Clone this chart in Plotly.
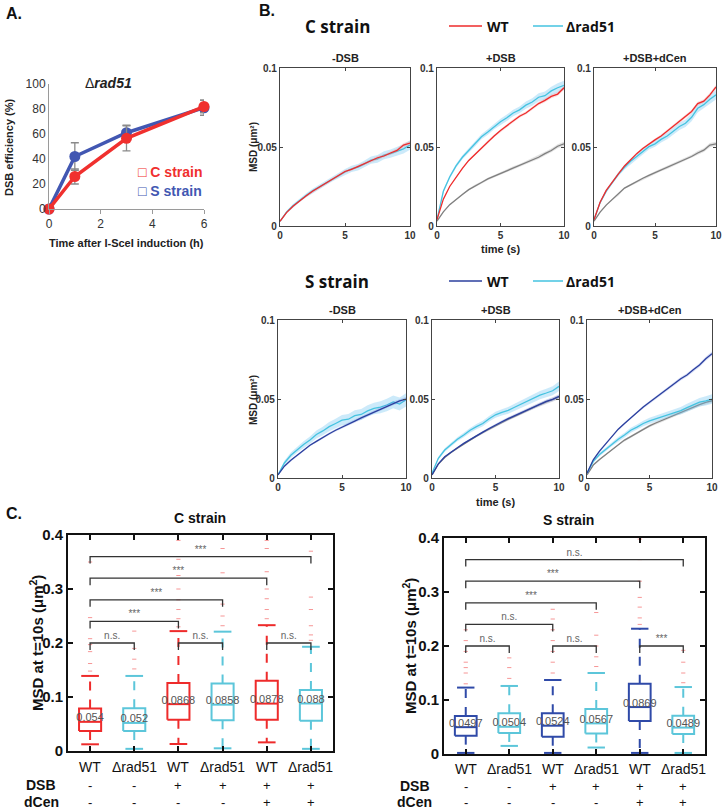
import plotly.graph_objects as go

W, H = 723, 810
FONT = "Liberation Sans, Arial, sans-serif"

# ---------------- Panel A data ----------------
a_time = [0, 1, 3, 6]
a_c_eff = [0, 26, 56.5, 82]
a_c_err = [0, 6, 10, 5]
a_s_eff = [0, 42, 61, 81]
a_s_err = [0, 11, 6, 6]

# ---------------- Panel B data ----------------
t = [0, 0.5, 1, 1.5, 2, 2.5, 3, 3.5, 4, 4.5, 5, 5.5, 6, 6.5, 7, 7.5, 8, 8.5, 9, 9.5, 10]

c_nodsb_wt = [0.003, 0.0085, 0.0125, 0.016, 0.019, 0.022, 0.0245, 0.027, 0.0293, 0.0318, 0.0345, 0.0358, 0.0378, 0.0395, 0.0413, 0.0432, 0.0443, 0.0462, 0.0478, 0.0512, 0.0525]
c_nodsb_rad51 = [0.003, 0.0088, 0.0128, 0.0162, 0.0193, 0.0222, 0.0246, 0.0272, 0.0298, 0.032, 0.0342, 0.0361, 0.0372, 0.0393, 0.0417, 0.0425, 0.0448, 0.0458, 0.0472, 0.0488, 0.0512]
c_dsb_wt = [0.004, 0.017, 0.025, 0.031, 0.0365, 0.0415, 0.0455, 0.0495, 0.0535, 0.057, 0.0605, 0.0635, 0.0665, 0.0695, 0.0715, 0.0745, 0.0775, 0.0795, 0.082, 0.0835, 0.0875]
c_dsb_rad51 = [0.004, 0.022, 0.031, 0.038, 0.0435, 0.048, 0.052, 0.0565, 0.0595, 0.063, 0.066, 0.0685, 0.0715, 0.0735, 0.0765, 0.0785, 0.0815, 0.0825, 0.0855, 0.0875, 0.089]
c_dsb_ref = [0.003, 0.009, 0.0135, 0.017, 0.020, 0.023, 0.0255, 0.0275, 0.0298, 0.0315, 0.033, 0.035, 0.0368, 0.0382, 0.0402, 0.042, 0.0435, 0.0458, 0.0478, 0.0505, 0.052]
c_dcen_wt = [0.004, 0.015, 0.0225, 0.028, 0.033, 0.038, 0.042, 0.0458, 0.049, 0.052, 0.0545, 0.057, 0.060, 0.063, 0.066, 0.069, 0.0725, 0.0775, 0.079, 0.083, 0.088]
c_dcen_rad51 = [0.004, 0.0148, 0.022, 0.0278, 0.0328, 0.0372, 0.041, 0.044, 0.047, 0.0502, 0.052, 0.0548, 0.057, 0.0598, 0.063, 0.065, 0.0688, 0.0745, 0.0768, 0.0802, 0.083]
c_dcen_ref = [0.003, 0.0088, 0.0132, 0.0168, 0.0198, 0.024, 0.026, 0.0282, 0.0302, 0.032, 0.0337, 0.0355, 0.037, 0.0388, 0.0405, 0.042, 0.044, 0.0462, 0.048, 0.0512, 0.052]

s_nodsb_wt = [0.002, 0.0075, 0.0112, 0.0145, 0.0175, 0.0207, 0.0232, 0.0258, 0.028, 0.0302, 0.0323, 0.0342, 0.036, 0.038, 0.0398, 0.0419, 0.0438, 0.0455, 0.0472, 0.0488, 0.050]
s_nodsb_rad51 = [0.002, 0.0095, 0.0144, 0.018, 0.0212, 0.024, 0.0275, 0.0298, 0.0325, 0.0345, 0.0366, 0.0372, 0.0395, 0.0402, 0.0425, 0.044, 0.0448, 0.0462, 0.0482, 0.0468, 0.0495]
s_dsb_wt = [0.002, 0.009, 0.0134, 0.0166, 0.0192, 0.0219, 0.0244, 0.0268, 0.029, 0.0313, 0.0336, 0.0356, 0.0376, 0.0395, 0.0413, 0.0432, 0.045, 0.0468, 0.0485, 0.0498, 0.0517]
s_dsb_rad51 = [0.003, 0.0125, 0.0177, 0.0212, 0.0245, 0.0272, 0.0302, 0.0325, 0.0345, 0.0375, 0.040, 0.0415, 0.0428, 0.0448, 0.0468, 0.0485, 0.0505, 0.0525, 0.0538, 0.0552, 0.058]
s_dsb_ref = [0.002, 0.0088, 0.013, 0.0162, 0.0188, 0.0215, 0.0242, 0.0265, 0.0288, 0.031, 0.0332, 0.0352, 0.0372, 0.039, 0.041, 0.0428, 0.0448, 0.0465, 0.0482, 0.0495, 0.0512]
s_dcen_wt = [0.003, 0.0115, 0.017, 0.0215, 0.0265, 0.0309, 0.0345, 0.0382, 0.0418, 0.045, 0.0479, 0.051, 0.054, 0.0568, 0.0598, 0.0628, 0.0652, 0.0685, 0.0715, 0.0755, 0.0787]
s_dcen_rad51 = [0.003, 0.0105, 0.0149, 0.0182, 0.0215, 0.0245, 0.0272, 0.0302, 0.0322, 0.0345, 0.0362, 0.0375, 0.0392, 0.0405, 0.0418, 0.0426, 0.0445, 0.0462, 0.048, 0.0488, 0.050]
s_dcen_ref = [0.002, 0.0082, 0.0117, 0.0148, 0.0182, 0.0213, 0.024, 0.0262, 0.0285, 0.0308, 0.033, 0.0348, 0.0365, 0.0382, 0.0398, 0.0415, 0.0432, 0.0448, 0.0465, 0.0478, 0.0489]

sem_narrow = [0.0002, 0.0004, 0.0005, 0.0005, 0.0006, 0.0006, 0.0007, 0.0007, 0.0008, 0.0008, 0.0009, 0.0009, 0.001, 0.001, 0.001, 0.0011, 0.0011, 0.0012, 0.0012, 0.0013, 0.0013]
sem_mid = [0.0004, 0.0009, 0.0011, 0.0012, 0.0013, 0.0014, 0.0015, 0.0016, 0.0017, 0.0018, 0.0019, 0.002, 0.0021, 0.0022, 0.0023, 0.0024, 0.0025, 0.0026, 0.0027, 0.0029, 0.003]
sem_wide = [0.0006, 0.0014, 0.0017, 0.0019, 0.0021, 0.0023, 0.0025, 0.0027, 0.0029, 0.003, 0.0032, 0.0033, 0.0034, 0.0035, 0.0036, 0.0037, 0.0038, 0.0039, 0.004, 0.0041, 0.0042]

b_titles = ["-DSB", "+DSB", "+DSB+dCen"]

# ---------------- Panel C data ----------------
c_cats = ["WT", "\u0394rad51", "WT", "\u0394rad51", "WT", "\u0394rad51"]
dsb_flags = ["-", "-", "+", "+", "+", "+"]
dcen_flags = ["-", "-", "-", "-", "+", "+"]

cC_q1 = [0.037, 0.037, 0.058, 0.057, 0.058, 0.056]
cC_med = [0.054, 0.052, 0.0868, 0.0858, 0.0878, 0.088]
cC_q3 = [0.0785, 0.079, 0.126, 0.125, 0.130, 0.113]
cC_lo = [0.0124, 0.004, 0.013, 0.005, 0.016, 0.004]
cC_hi = [0.139, 0.139, 0.222, 0.221, 0.233, 0.193]
cC_out = [[0.148, 0.162, 0.184, 0.197, 0.208, 0.247, 0.35],
          [0.152, 0.17, 0.19, 0.222],
          [0.23, 0.245, 0.262, 0.28, 0.30, 0.325, 0.355, 0.39],
          [0.232, 0.25, 0.272, 0.33, 0.375],
          [0.245, 0.262, 0.282, 0.30, 0.332, 0.375, 0.39],
          [0.205, 0.215, 0.232, 0.262, 0.285, 0.37]]
cC_labels = ["0.054", "0.052", "0.0868", "0.0858", "0.0878", "0.088"]

sC_q1 = [0.034, 0.039, 0.032, 0.038, 0.061, 0.037]
sC_med = [0.0497, 0.0504, 0.0524, 0.0567, 0.0869, 0.0489]
sC_q3 = [0.0705, 0.0755, 0.0755, 0.0835, 0.130, 0.071]
sC_lo = [0.002, 0.015, 0.002, 0.012, 0.002, 0.002]
sC_hi = [0.123, 0.126, 0.137, 0.150, 0.232, 0.124]
sC_out = [[0.13, 0.15, 0.16, 0.17, 0.19, 0.21, 0.23],
          [0.14, 0.16, 0.178],
          [0.15, 0.17, 0.19, 0.21, 0.23, 0.25, 0.268],
          [0.162, 0.18, 0.20, 0.22, 0.262],
          [0.24, 0.252, 0.272, 0.29, 0.32, 0.36, 0.398],
          [0.132, 0.15, 0.17, 0.192]]
sC_labels = ["0.0497", "0.0504", "0.0524", "0.0567", "0.0869", "0.0489"]

cC_sig = [(1, 2, 0.20, "n.s."), (3, 4, 0.20, "n.s."), (5, 6, 0.20, "n.s."),
          (1, 3, 0.24, "***"), (1, 4, 0.28, "***"), (1, 5, 0.32, "***"), (1, 6, 0.36, "***")]
sC_sig = [(1, 2, 0.20, "n.s."), (3, 4, 0.20, "n.s."), (5, 6, 0.20, "***"),
          (1, 3, 0.24, "n.s."), (1, 4, 0.28, "***"), (1, 5, 0.32, "***"), (1, 6, 0.36, "n.s.")]

# ---------------- colours ----------------
RED = "#ee2b2b"
CYAN = "#45c3e0"
DBLUE = "#2b3f9e"
GRAY = "#7f7f7f"
A_BLUE = "#4257b2"
A_RED = "#f0302e"
BOX_CYAN = "#5cc6da"
BOX_BLUE = "#2f4aa8"


def px(x):
    return x / W


def py(y):
    return 1 - y / H


def label(text, x, y, size, color="#111", family=FONT, xanchor="center", angle=0):
    return dict(text=text, x=px(x), y=py(y), xref="paper", yref="paper", xanchor=xanchor, yanchor="middle",
                textangle=angle, showarrow=False, font=dict(size=size, family=family, color=color))


fig = go.Figure()
annotations = []
shapes = []

# ======================= Panel A =======================
fig.add_trace(go.Scatter(x=a_time, y=a_s_eff, xaxis="x", yaxis="y", mode="lines+markers",
                         line=dict(color=A_BLUE, width=3.5), marker=dict(size=11, color=A_BLUE),
                         error_y=dict(type="data", array=a_s_err, color="#8a8a8a", thickness=1.3, width=4),
                         cliponaxis=False))
fig.add_trace(go.Scatter(x=a_time, y=a_c_eff, xaxis="x", yaxis="y", mode="lines+markers",
                         line=dict(color=A_RED, width=3.5), marker=dict(size=11, color=A_RED),
                         error_y=dict(type="data", array=a_c_err, color="#8a8a8a", thickness=1.3, width=4),
                         cliponaxis=False))

layout_axes = {}
layout_axes["xaxis"] = dict(domain=[px(49), px(204)], anchor="y", range=[0, 6], tickvals=[0, 2, 4, 6],
                            showline=True, linecolor="#9a9a9a", linewidth=1, ticks="outside", ticklen=4,
                            tickcolor="#9a9a9a", showgrid=False, zeroline=False, automargin=False,
                            tickfont=dict(size=12, color="#333", family=FONT))
layout_axes["yaxis"] = dict(domain=[py(209), py(84)], anchor="x", range=[0, 100], tickvals=[0, 20, 40, 60, 80, 100],
                            showline=True, linecolor="#9a9a9a", linewidth=1, ticks="", showgrid=False,
                            zeroline=False, automargin=False, tickfont=dict(size=12, color="#333", family=FONT))

annotations += [
    label("<b>A.</b>", 4, 13, 16, xanchor="left"),
    label("\u0394<b><i>rad51</i></b>", 108, 83, 14, color="#222"),
    label("<b>\u25a1 C strain</b>", 136, 172, 14, color=A_RED, xanchor="left"),
    label("<b>\u25a1 S strain</b>", 136, 191, 14, color=A_BLUE, xanchor="left"),
    label("<b>Time after I-SceI induction (h)</b>", 127, 243, 11, color="#222"),
    label("<b>DSB efficiency (%)</b>", 9, 147, 11, color="#222", angle=-90),
]

# ======================= Panel B =======================
b_panels = [
    (2, (280, 410), (68, 226), [(c_nodsb_rad51, CYAN, sem_mid), (c_nodsb_wt, RED, sem_narrow)]),
    (3, (437, 564), (68, 226), [(c_dsb_ref, GRAY, sem_narrow), (c_dsb_rad51, CYAN, sem_mid), (c_dsb_wt, RED, sem_narrow)]),
    (4, (594, 716), (68, 226), [(c_dcen_ref, GRAY, sem_narrow), (c_dcen_rad51, CYAN, sem_mid), (c_dcen_wt, RED, sem_narrow)]),
    (5, (278, 406), (320, 478), [(s_nodsb_rad51, CYAN, sem_wide), (s_nodsb_wt, DBLUE, sem_narrow)]),
    (6, (432, 559), (320, 478), [(s_dsb_ref, GRAY, sem_narrow), (s_dsb_rad51, CYAN, sem_mid), (s_dsb_wt, DBLUE, sem_narrow)]),
    (7, (587, 712), (320, 478), [(s_dcen_ref, GRAY, sem_narrow), (s_dcen_rad51, CYAN, sem_mid), (s_dcen_wt, DBLUE, sem_narrow)]),
]

band_colors = {CYAN: "rgba(110,195,240,0.35)", RED: "rgba(240,120,120,0.25)",
               DBLUE: "rgba(90,120,220,0.25)", GRAY: "rgba(160,160,160,0.3)"}

for k, (idx, xd, yd, curves) in enumerate(b_panels):
    xa, ya = f"x{idx}", f"y{idx}"
    for vals, col, sem in curves:
        upper = [v + s for v, s in zip(vals, sem)]
        lower = [v - s for v, s in zip(vals, sem)]
        fig.add_trace(go.Scatter(x=t + t[::-1], y=upper + lower[::-1], xaxis=xa, yaxis=ya, mode="lines",
                                 fill="toself", fillcolor=band_colors[col], line=dict(width=0),
                                 hoverinfo="skip"))
        fig.add_trace(go.Scatter(x=t, y=vals, xaxis=xa, yaxis=ya, mode="lines",
                                 line=dict(color=col, width=1.3)))
    common = dict(showline=True, linecolor="#444", linewidth=1.3, mirror="allticks", ticks="inside",
                  ticklen=3, tickcolor="#444", showgrid=False, zeroline=False, automargin=False,
                  tickfont=dict(size=10, color="#333", family=FONT, weight="bold"))
    layout_axes[f"xaxis{idx}"] = dict(domain=[px(xd[0]), px(xd[1])], anchor=ya, range=[0, 10],
                                      tickvals=[0, 5, 10], **common)
    layout_axes[f"yaxis{idx}"] = dict(domain=[py(yd[1]), py(yd[0])], anchor=xa, range=[0, 0.1],
                                      tickvals=[0, 0.05, 0.1], ticktext=["0", "0.05", "0.1"], **common)
    annotations.append(label(f"<b>{b_titles[k % 3]}</b>", (xd[0] + xd[1]) / 2, yd[0] - 10, 11, color="#222"))

for row_y, mid_y, lab, wt_col in [(26, 147, "C strain", RED), (281, 400, "S strain", DBLUE)]:
    annotations += [
        label(f"<b>{lab}</b>", 337, row_y, 17, family="Open Sans, sans-serif"),
        label("<b>WT</b>", 498, row_y, 14, family="Open Sans, sans-serif"),
        label("<b>\u0394rad51</b>", 590, row_y, 14, family="Open Sans, sans-serif"),
        label("<b>MSD (\u03bcm\u00b2)</b>", 253, mid_y, 10, color="#222", angle=-90),
    ]
    shapes += [
        dict(type="line", xref="paper", yref="paper", x0=px(449), x1=px(482), y0=py(row_y), y1=py(row_y),
             line=dict(color=wt_col, width=1.5)),
        dict(type="line", xref="paper", yref="paper", x0=px(533), x1=px(563), y0=py(row_y), y1=py(row_y),
             line=dict(color=CYAN, width=1.5)),
    ]

annotations += [
    label("<b>B.</b>", 257, 10, 16, xanchor="left"),
    label("<b>time (s)</b>", 500, 249, 11, color="#222"),
    label("<b>time (s)</b>", 495, 502, 11, color="#222"),
]

# ======================= Panel C =======================
c_panels = [
    (8, (68, 333), (535, 751), "C strain", 200, 518, 36, [RED, BOX_CYAN] * 3,
     cC_q1, cC_med, cC_q3, cC_lo, cC_hi, cC_out, cC_labels, cC_sig, 767, 41, 785, 802),
    (9, (444, 705), (538, 754), "S strain", 568, 520, 409, [BOX_BLUE, BOX_CYAN] * 3,
     sC_q1, sC_med, sC_q3, sC_lo, sC_hi, sC_out, sC_labels, sC_sig, 769, 415, 786, 802),
]

BW = 0.25
CW = 0.2
for (idx, xd, yd, title, tx, ty, ytx, cols, q1, med, q3, lo, hi, outs, labs, sigs,
     cat_y, rowlab_x, dsb_y, dcen_y) in c_panels:
    xa, ya = f"x{idx}", f"y{idx}"
    for i in range(6):
        p = i + 1
        col = cols[i]
        fig.add_trace(go.Scatter(x=[p] * len(outs[i]), y=outs[i], xaxis=xa, yaxis=ya, mode="markers",
                                 marker=dict(symbol="line-ew", size=3, color="rgba(240,80,80,0.6)",
                                             line=dict(width=1, color="rgba(240,80,80,0.6)"))))
        fig.add_trace(go.Scatter(x=[p, p, None, p, p], y=[q3[i], hi[i], None, q1[i], lo[i]], xaxis=xa, yaxis=ya,
                                 mode="lines", line=dict(color=col, width=2, dash="dash")))
        fig.add_trace(go.Scatter(x=[p - CW, p + CW, None, p - CW, p + CW], y=[hi[i], hi[i], None, lo[i], lo[i]],
                                 xaxis=xa, yaxis=ya, mode="lines", line=dict(color=col, width=2)))
        fig.add_trace(go.Scatter(x=[p - BW, p + BW, p + BW, p - BW, p - BW, None, p - BW, p + BW],
                                 y=[q1[i], q1[i], q3[i], q3[i], q1[i], None, med[i], med[i]],
                                 xaxis=xa, yaxis=ya, mode="lines", line=dict(color=col, width=2)))
        fig.add_trace(go.Scatter(x=[p], y=[med[i] + 0.006], xaxis=xa, yaxis=ya, mode="text", text=[labs[i]],
                                 textfont=dict(size=11, color="#555", family=FONT)))
        annotations.append(dict(text=c_cats[i], x=p, xref=xa, y=py(cat_y), yref="paper", showarrow=False,
                                xanchor="center", yanchor="middle", font=dict(size=14, family=FONT, color="#111")))
        annotations.append(dict(text=dsb_flags[i], x=p, xref=xa, y=py(dsb_y), yref="paper", showarrow=False,
                                xanchor="center", yanchor="middle", font=dict(size=13, family=FONT, color="#111")))
        annotations.append(dict(text=dcen_flags[i], x=p, xref=xa, y=py(dcen_y), yref="paper", showarrow=False,
                                xanchor="center", yanchor="middle", font=dict(size=13, family=FONT, color="#111")))
    for a, b, yy, lab in sigs:
        fig.add_trace(go.Scatter(x=[a, a, b, b], y=[yy - 0.013, yy, yy, yy - 0.013], xaxis=xa, yaxis=ya,
                                 mode="lines", line=dict(color="#333", width=1.3)))
        fig.add_trace(go.Scatter(x=[(a + b) / 2], y=[yy + 0.012], xaxis=xa, yaxis=ya, mode="text", text=[lab],
                                 textfont=dict(size=10, color="#666", family=FONT)))
    layout_axes[f"xaxis{idx}"] = dict(domain=[px(xd[0]), px(xd[1])], anchor=ya, range=[0.5, 6.5],
                                      tickvals=[1, 2, 3, 4, 5, 6], showticklabels=False, showline=True,
                                      linecolor="#111", linewidth=2, mirror="allticks", ticks="inside",
                                      ticklen=5, tickwidth=2, tickcolor="#111", showgrid=False, zeroline=False,
                                      automargin=False)
    layout_axes[f"yaxis{idx}"] = dict(domain=[py(yd[1]), py(yd[0])], anchor=xa, range=[0, 0.4],
                                      tickvals=[0, 0.1, 0.2, 0.3, 0.4], ticktext=["0", "0.1", "0.2", "0.3", "0.4"],
                                      showline=True, linecolor="#111", linewidth=2, mirror="allticks",
                                      ticks="inside", ticklen=5, tickwidth=2, tickcolor="#111", showgrid=False,
                                      zeroline=False, automargin=False,
                                      tickfont=dict(size=15, color="#111", family=FONT, weight="bold"))
    annotations += [
        label(f"<b>{title}</b>", tx, ty, 14),
        label("<b>MSD at t=10s (\u03bcm<sup>2</sup>)</b>", ytx, (yd[0] + yd[1]) / 2, 15, angle=-90),
        label("<b>DSB</b>", rowlab_x, dsb_y, 14),
        label("<b>dCen</b>", rowlab_x, dcen_y, 14),
    ]

annotations.append(label("<b>C.</b>", 4, 513, 16, xanchor="left"))

fig.update_layout(width=W, height=H, margin=dict(l=0, r=0, t=0, b=0, autoexpand=False), paper_bgcolor="white",
                  plot_bgcolor="white", showlegend=False, font=dict(family=FONT),
                  annotations=annotations, shapes=shapes, **layout_axes)

fig.write_html("out.html", config={"displayModeBar": False},
               post_script="document.body.style.margin='0';document.body.style.overflow='hidden';")
